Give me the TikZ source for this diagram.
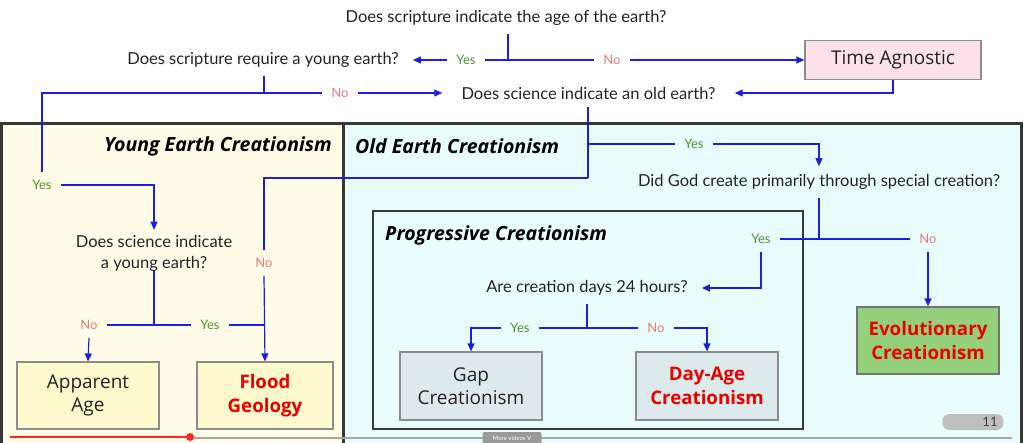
\documentclass[tikz,border=0pt]{standalone}
\usepackage{fontspec}
\setmainfont{Lato}
\newfontfamily\boxfont{Open Sans}
\usetikzlibrary{arrows.meta}
\definecolor{ln}{RGB}{30,30,225}
\definecolor{yesc}{RGB}{80,145,50}
\definecolor{noc}{RGB}{232,120,120}
\definecolor{txt}{RGB}{35,35,35}
\definecolor{frame}{RGB}{55,55,55}
\definecolor{yecbg}{RGB}{255,253,232}
\definecolor{oecbg}{RGB}{234,253,253}
\definecolor{pinkbox}{RGB}{253,226,236}
\definecolor{yelbox}{RGB}{252,249,204}
\definecolor{gapbox}{RGB}{220,234,236}
\definecolor{grnbox}{RGB}{148,207,124}
\definecolor{redtxt}{RGB}{235,0,0}
\tikzset{
  q/.style={text=txt, font=\fontsize{16.5}{21}\selectfont, inner xsep=14pt, inner ysep=8pt, align=center},
  yes/.style={text=yesc, font=\fontsize{13}{15}\selectfont, inner xsep=9pt, inner ysep=8pt},
  no/.style={text=noc, font=\fontsize{13}{15}\selectfont, inner xsep=9pt, inner ysep=8pt},
  box/.style={draw=black!45, line width=1.2pt, align=center, text=txt, font=\boxfont\fontsize{19}{23.5}\selectfont, inner sep=0pt},
  redb/.style={text=redtxt, font=\boxfont\fontsize{18.7}{23.5}\selectfont\bfseries},
  ttl/.style={text=black, font=\boxfont\fontsize{19.5}{22}\selectfont\bfseries\itshape, inner sep=0pt},
  ln/.style={draw=ln, line width=1.2pt},
  arr/.style={ln, -{Triangle[length=8pt,width=7pt]}},
}
\begin{document}
\begin{tikzpicture}[x=1pt,y=-1pt]
\useasboundingbox (0,0) rectangle (1024,443);
\clip (0,0) rectangle (1024,443);
% regions
\draw[fill=yecbg, draw=frame, line width=3pt] (1.5,124) rectangle (343,470);
\draw[fill=oecbg, draw=frame, line width=3pt] (343,124) rectangle (1021,470);
\draw[draw=frame, line width=2pt] (373,211) rectangle (803,429);
\node[ttl, anchor=east] (tyec) at (332,146) {Young Earth Creationism};
\node[ttl, anchor=west] (toec) at (355,146) {Old Earth Creationism};
\node[ttl, anchor=west] (tpc) at (385,235) {Progressive Creationism};
% questions
\node[q] (q1) at (506,18) {Does scripture indicate the age of the earth?};
\node[q] (q2) at (263,60) {Does scripture require a young earth?};
\node[q, inner xsep=19pt] (q3) at (588.5,93) {Does science indicate an old earth?};
\node[q, inner ysep=5pt] (q4) at (154,253) {Does science indicate\\a young earth?};
\node[q] (q5) at (819,182) {Did God create primarily through special creation?};
\node[q] (q6) at (587,288) {Are creation days 24 hours?};
% outcome boxes
\node[box, fill=pinkbox, minimum width=176pt, minimum height=39pt] (ta) at (893,60) {Time Agnostic};
\node[box, fill=yelbox, minimum width=142pt, minimum height=67pt] (aa) at (88,395.5) {Apparent\\Age};
\node[box, fill=yelbox, minimum width=136pt, minimum height=67pt, redb] (fg) at (265,395.5) {Flood\\Geology};
\node[box, fill=gapbox, minimum width=142pt, minimum height=68pt] (gap) at (471,386) {Gap\\Creationism};
\node[box, fill=gapbox, minimum width=142pt, minimum height=68pt, redb] (da) at (707,386) {Day-Age\\Creationism};
\node[box, fill=grnbox, draw=black!55, minimum width=142pt, minimum height=67pt, redb] (ev) at (928,340.5) {Evolutionary\\Creationism};
% labels
\node[yes] (y1) at (466,60) {Yes};
\node[no] (n1) at (612,60) {No};
\node[no] (n2) at (340,93) {No};
\node[yes] (y2) at (42,185) {Yes};
\node[yes] (y3) at (694,144) {Yes};
\node[no] (n3) at (264,263) {No};
\node[no] (n4) at (89,325) {No};
\node[yes] (y4) at (210,325) {Yes};
\node[yes] (y5) at (761,239) {Yes};
\node[no] (n5) at (928,239) {No};
\node[yes] (y6) at (520,328) {Yes};
\node[no] (n6) at (656,328) {No};
% branch points
\coordinate (b1) at (508,60);
\coordinate (b2) at (264,93);
\coordinate (b3) at (588,178);
\coordinate (b4) at (154,325);
\coordinate (b5) at (819,239);
\coordinate (b6) at (587,328);
% connectors
\draw[ln] (q1.south -| b1) -- (b1);
\draw[ln] (y1.east) -- (n1.west);
\draw[arr] (y1.west) -- (q2.east);
\draw[arr] (n1.east) -- (ta.west);
\draw[arr] (ta.south) |- (q3.east);
\draw[ln] (q2.south -| b2) -- (b2);
\draw[ln] (y2.north) |- (n2.west);
\draw[arr] (n2.east) -- (q3.west);
\draw[arr] (y2.east) -| (q4.north);
\draw[ln] (q3.south -| b3) -- (b3);
\draw[ln] (y3.west) -- (y3.west -| b3);
\draw[arr] (y3.east) -| (q5.north);
\draw[ln] (b3) -| (n3.north);
\draw[arr] (n3.south) -- (fg.north);
\draw[ln] ([yshift=5pt]q4.south -| b4) -- (b4);
\draw[ln] (n4.east) -- (y4.west);
\draw[ln] (y4.east) -- (y4.east -| fg.north);
\draw[arr] (n4.south) -- (aa.north);
\draw[ln] (q5.south -| b5) -- (b5);
\draw[ln] (y5.east) -- (n5.west);
\draw[arr] (n5.south) -- (ev.north);
\draw[arr] (y5.south) |- (q6.east);
\draw[ln] (q6.south -| b6) -- (b6);
\draw[ln] (y6.east) -- (n6.west);
\draw[arr] (y6.west) -| (gap.north);
\draw[arr] (n6.east) -| (da.north);
% video overlay
\draw[black!35, line width=1.5pt] (190,438) -- (1012,438);
\draw[red!85!white, line width=1.8pt] (10,437) -- (190,437);
\fill[red!85!white] (190,437) circle (4pt);
\node[fill=black!40, rounded corners=2pt, text=white, font=\fontsize{6}{7}\selectfont, minimum width=59pt, minimum height=12pt, inner sep=1pt] (mv) at (512,438) {More videos V};
\node[fill=black!25, rounded corners=7pt, minimum width=61pt, minimum height=16pt] (pill) at (973,422) {};
\node[text=black!75, font=\fontsize{13}{14}\selectfont, inner sep=0pt] (pg) at (990,422) {11};
\end{tikzpicture}
\end{document}
